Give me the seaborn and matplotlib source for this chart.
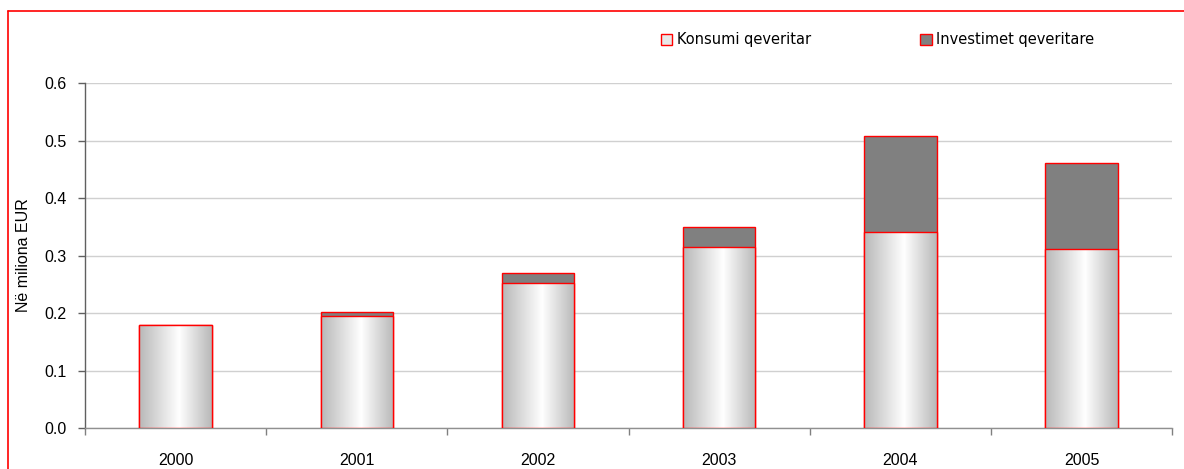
import numpy as np
import pandas as pd
import matplotlib
matplotlib.use("Agg")
import matplotlib.pyplot as plt
import seaborn as sns
from matplotlib.patches import Patch
from matplotlib.lines import Line2D
from matplotlib.colors import LinearSegmentedColormap

years = ["2000", "2001", "2002", "2003", "2004", "2005"]
konsumi = [0.180, 0.195, 0.253, 0.315, 0.341, 0.312]
investimet = [0.000, 0.007, 0.016, 0.035, 0.166, 0.149]
yticks = [0.0, 0.1, 0.2, 0.3, 0.4, 0.5, 0.6]
ylabel = "Në miliona EUR"
legend_labels = ["Konsumi qeveritar", "Investimet qeveritare"]

sns.set_theme(style="white")
plt.rcParams["font.family"] = ["Liberation Sans", "DejaVu Sans"]

df = pd.DataFrame({"year": years, "konsumi": konsumi,
                   "total": np.array(konsumi) + np.array(investimet)})

fig = plt.figure(figsize=(11.84, 4.69), dpi=100)
ax = fig.add_axes([0.0718, 0.0874, 0.9181, 0.7356])

bw = 0.4
sns.barplot(data=df, x="year", y="total", color="#808080", edgecolor="red",
            linewidth=1.0, width=bw, saturation=1, ax=ax, zorder=3)
n_before = len(ax.patches)
sns.barplot(data=df, x="year", y="konsumi", color="white", edgecolor="red",
            linewidth=1.0, width=bw, saturation=1, ax=ax, zorder=4)
kpatches = ax.patches[n_before:]

cmap = LinearSegmentedColormap.from_list(
    "grad", [(0.0, "#b8b8b8"), (0.55, "#ffffff"), (1.0, "#b8b8b8")])
grad = np.linspace(0, 1, 256).reshape(1, -1)
for p in kpatches:
    x0, y0 = p.get_x(), p.get_y()
    w, h = p.get_width(), p.get_height()
    im = ax.imshow(grad, cmap=cmap, aspect="auto",
                   extent=[x0, x0 + w, y0, y0 + h], zorder=4, interpolation="bilinear")
    im.set_clip_path(p)
    p.set_facecolor("none")
    p.set_zorder(5)

ax.set_xlim(-0.5, len(years) - 0.5)
ax.set_ylim(0, 0.6)
ax.set_yticks(yticks)
ax.set_yticklabels([f"{v:.1f}" for v in yticks], fontsize=11.5, color="black")
ax.set_xticks(range(len(years)))
ax.set_xticklabels(years, fontsize=11.5, color="black")
ax.set_xticks(np.arange(-0.5, len(years)), minor=True)
ax.tick_params(axis="x", which="major", length=0, pad=18)
ax.tick_params(axis="x", which="minor", length=5, width=1, color="#808080", direction="out", bottom=True)
ax.tick_params(axis="y", length=5, width=1, color="#606060", direction="out", left=True, pad=8)
ax.set_xlabel("")
ax.set_ylabel(ylabel, fontsize=11.5, color="black", labelpad=10)

ax.grid(axis="y", color="#d0d0d0", linewidth=1.0)
ax.set_axisbelow(True)
for s in ["top", "right"]:
    ax.spines[s].set_visible(False)
ax.spines["left"].set_color("#606060")
ax.spines["bottom"].set_color("#909090")
ax.spines["left"].set_linewidth(1.0)
ax.spines["bottom"].set_linewidth(1.0)

handles = [Patch(facecolor="#e8e8e8", edgecolor="red", linewidth=1.0),
           Patch(facecolor="#808080", edgecolor="red", linewidth=1.0)]
leg = fig.legend(handles, legend_labels, loc="center left", bbox_to_anchor=(0.547, 0.915),
                 ncol=2, frameon=False, handlelength=0.8, handleheight=0.8,
                 handletextpad=0.3, columnspacing=7.5,
                 prop={"family": ["DejaVu Sans"], "size": 10.5})
for t in leg.get_texts():
    t.set_color("black")

# red frame lines (top and left)
fig.add_artist(Line2D([0.0068, 1.0], [0.9765, 0.9765], transform=fig.transFigure,
                      color="red", linewidth=1.2))
fig.add_artist(Line2D([0.0068, 0.0068], [0.0, 0.9765], transform=fig.transFigure,
                      color="red", linewidth=1.2))

fig.savefig("out.png", dpi=100)
